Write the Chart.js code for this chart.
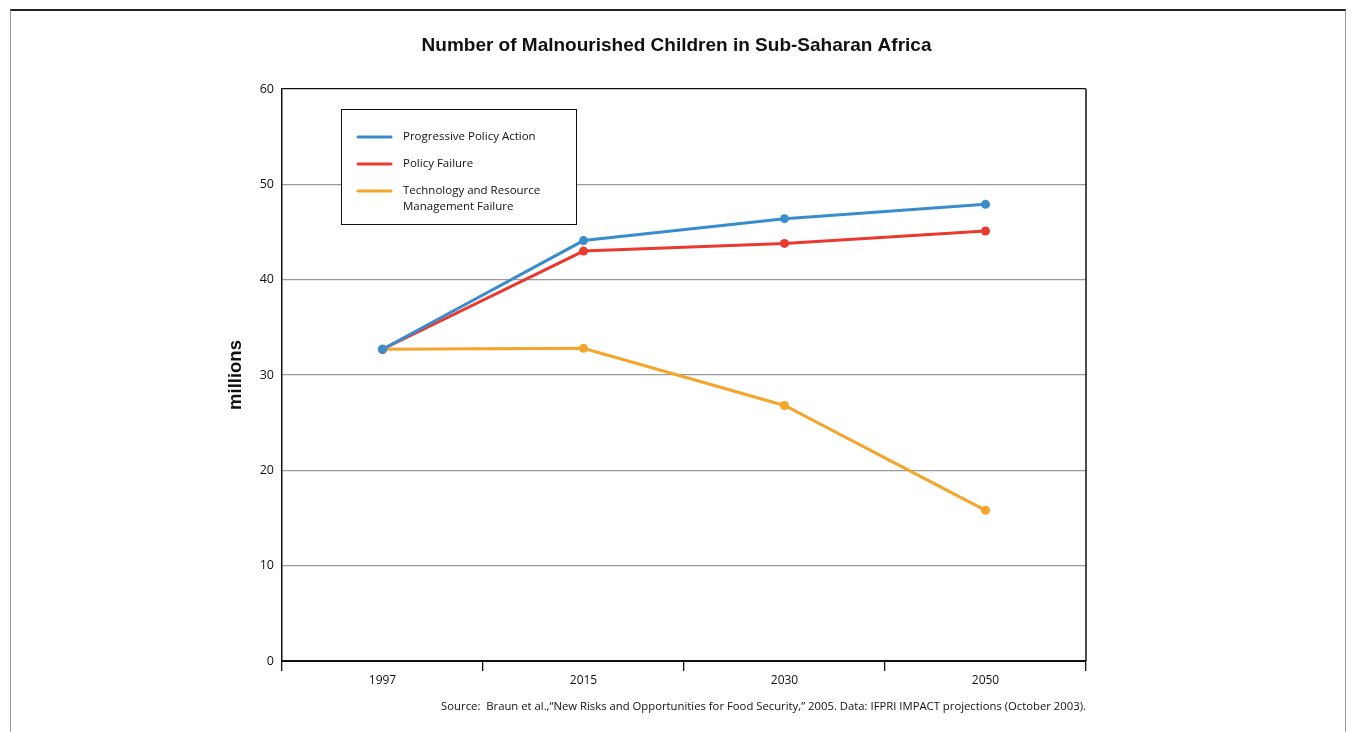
<!DOCTYPE html>
<html>
<head>
<meta charset="utf-8">
<title>Malnourished Children</title>
<script src="https://cdn.jsdelivr.net/npm/chart.js@4.4.1/dist/chart.umd.min.js"></script>
<style>
  html, body { margin: 0; padding: 0; background: #fff; }
  #wrap { position: relative; width: 1353px; height: 732px; overflow: hidden; }
  #frame {
    position: absolute; left: 10px; top: 9px; width: 1334px; height: 800px;
    border-top: 2px solid #222; border-left: 1px solid #999; border-right: 1px solid #999;
    pointer-events: none;
  }
</style>
</head>
<body>
<div id="wrap">
  <canvas id="malnourishedChart" width="1353" height="732"></canvas>
  <div id="frame"></div>
</div>
<script>
const years = ["1997", "2015", "2030", "2050"];
const seriesNames = ["Progressive Policy Action", "Policy Failure", "Technology and Resource Management Failure"];
const progressiveValues = [32.7, 44.1, 46.4, 47.9];
const policyFailureValues = [32.7, 43.0, 43.8, 45.1];
const techFailureValues = [32.7, 32.8, 26.8, 15.8];
const seriesColors = ["#3a8dcd", "#ea3a2f", "#f5a52b"];

const chartTitle = "Number of Malnourished Children in Sub-Saharan Africa";
const sourceNote = "Source:  Braun et al.,\u201cNew Risks and Opportunities for Food Security,\u201d 2005. Data: IFPRI IMPACT projections (October 2003).";

const bodyFont = '"Open Sans", "Noto Sans", sans-serif';
const headFont = '"Liberation Sans", Arial, sans-serif';

function wrapWords(ctx, text, maxWidth) {
  const words = text.split(" ");
  const lines = [];
  let line = "";
  for (const w of words) {
    const test = line ? line + " " + w : w;
    if (line && ctx.measureText(test).width > maxWidth) {
      lines.push(line);
      line = w;
    } else {
      line = test;
    }
  }
  if (line) lines.push(line);
  return lines;
}

// legend in a white box sitting inside the plot
const boxedLegend = {
  id: "boxedLegend",
  afterDraw(chart, args, opts) {
    const ctx = chart.ctx;
    const area = chart.chartArea;
    const x = area.left + opts.x;
    const y = area.top + opts.y;
    ctx.save();
    ctx.fillStyle = "#fff";
    ctx.fillRect(x, y, opts.width, opts.height);
    ctx.strokeStyle = "#111";
    ctx.lineWidth = 1;
    ctx.strokeRect(x + 0.5, y + 0.5, opts.width, opts.height);
    ctx.font = opts.font;
    ctx.textBaseline = "middle";
    let rowY = y + opts.firstRow;
    chart.data.datasets.forEach(ds => {
      const lines = wrapWords(ctx, ds.label, opts.maxTextWidth);
      ctx.strokeStyle = ds.borderColor;
      ctx.lineWidth = 3;
      ctx.lineCap = "round";
      ctx.beginPath();
      ctx.moveTo(x + opts.lineStart, rowY);
      ctx.lineTo(x + opts.lineStart + opts.lineLength, rowY);
      ctx.stroke();
      ctx.fillStyle = "#111";
      lines.forEach((t, i) => ctx.fillText(t, x + opts.textStart, rowY + i * opts.lineGap));
      rowY += opts.rowGap + (lines.length - 1) * opts.lineGap;
    });
    ctx.restore();
  }
};

// title on top, source line under the axis, right edge of the plot frame
const pageText = {
  id: "pageText",
  afterDraw(chart, args, opts) {
    const ctx = chart.ctx;
    const area = chart.chartArea;
    ctx.save();
    ctx.strokeStyle = "#111";
    ctx.lineWidth = 1.5;
    ctx.beginPath();
    ctx.moveTo(area.right, area.top);
    ctx.lineTo(area.right, area.bottom);
    ctx.stroke();

    ctx.fillStyle = "#111";
    ctx.textBaseline = "middle";
    ctx.font = "bold 19px " + headFont;
    ctx.textAlign = "center";
    ctx.fillText(opts.title, chart.width / 2, opts.titleY);

    ctx.font = "11.3px " + bodyFont;
    ctx.textAlign = "right";
    ctx.fillText(opts.source, area.right, opts.sourceY);
    ctx.restore();
  }
};

function lineSet(label, data, color) {
  return {
    label: label,
    data: data,
    borderColor: color,
    backgroundColor: color,
    borderWidth: 3,
    tension: 0,
    fill: false,
    pointRadius: 4.5,
    pointBorderWidth: 0,
    pointBackgroundColor: color
  };
}

new Chart("malnourishedChart", {
  type: "line",
  data: {
    labels: years,
    datasets: [
      lineSet(seriesNames[0], progressiveValues, seriesColors[0]),
      lineSet(seriesNames[1], policyFailureValues, seriesColors[1]),
      lineSet(seriesNames[2], techFailureValues, seriesColors[2])
    ]
  },
  options: {
    responsive: false,
    animation: false,
    layout: { padding: { top: 89, left: 214, right: 267, bottom: 40 } },
    plugins: {
      legend: { display: false },
      tooltip: { enabled: false },
      boxedLegend: {
        x: 59, y: 20, width: 235, height: 115,
        firstRow: 28, rowGap: 27, lineGap: 16,
        lineStart: 17, lineLength: 33, textStart: 62,
        maxTextWidth: 165,
        font: "11.5px " + bodyFont
      },
      pageText: { title: chartTitle, titleY: 46, source: sourceNote, sourceY: 707 }
    },
    scales: {
      x: {
        offset: true,
        grid: {
          offset: true,
          drawOnChartArea: false,
          drawTicks: true,
          tickLength: 10,
          color: "#111",
          lineWidth: 1.3
        },
        border: { color: "#111", width: 2 },
        ticks: { color: "#111", font: { family: bodyFont, size: 12 }, padding: 2 },
        afterFit(scale) { scale.height = 31; }
      },
      y: {
        min: 0,
        max: 60,
        ticks: { stepSize: 10, color: "#111", font: { family: bodyFont, size: 12.5 }, padding: 8 },
        grid: {
          drawTicks: false,
          color: ctx => ctx.tick.value === 60 ? "#111" : (ctx.tick.value === 0 ? "rgba(0,0,0,0)" : "#9a9a9a"),
          lineWidth: 1.2
        },
        border: { color: "#111", width: 1.5 },
        title: {
          display: true,
          text: "millions",
          color: "#111",
          font: { family: headFont, size: 18.5, weight: "bold" },
          padding: { top: 11, bottom: 0 }
        },
        afterFit(scale) { scale.width = 68; }
      }
    }
  },
  plugins: [boxedLegend, pageText]
});
</script>
</body>
</html>
